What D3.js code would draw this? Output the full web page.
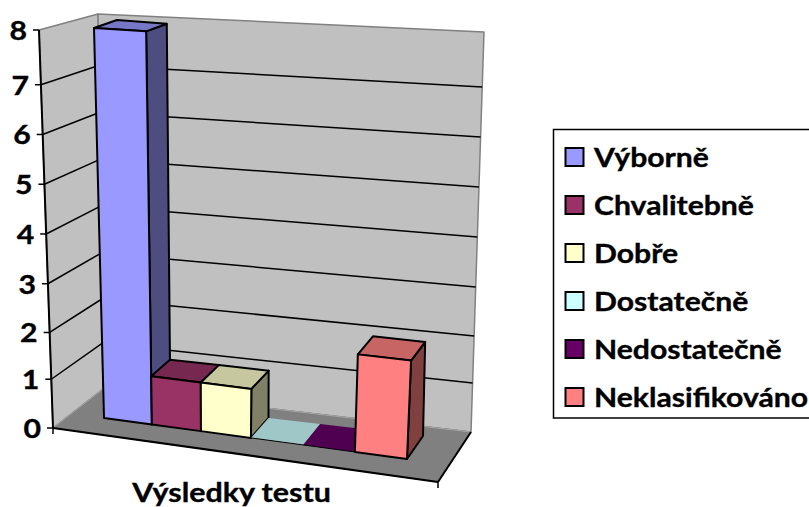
<!DOCTYPE html>
<html><head><meta charset="utf-8">
<script src="https://cdn.jsdelivr.net/npm/d3@7/dist/d3.min.js"></script>
<style>html,body{margin:0;background:#fff;overflow:hidden}text{font-family:Lato,"Open Sans",sans-serif;font-weight:700;fill:#000;stroke:#000;stroke-width:.35px}</style>
</head><body><svg id="c" width="809" height="507"></svg>
<script>
const categories=["Výborně","Chvalitebně","Dobře","Dostatečně","Nedostatečně","Neklasifikováno"];
const values=[8,1,1,0,0,2];
const colors=["#9999ff","#993366","#ffffcc","#ccffff","#660066","#ff8080"];
const yTicks=[0,1,2,3,4,5,6,7,8];
const axisTitle="Výsledky testu";

const svg=d3.select("#c");
const fy=d3.scaleLinear().domain(yTicks).range([0,.1225,.24,.3625,.4875,.6125,.7375,.8625,1]);
const fx=d3.scaleLinear().domain([0,1,2,3,4,5,6]).range([0,.158,.32,.485,.657,.828,1]);
const lerp=(a,b,t)=>[a[0]+(b[0]-a[0])*t,a[1]+(b[1]-a[1])*t];
function tri(c,u,f,z){
  const fb=lerp(c.fbl,c.fbr,u),ft=lerp(c.ftl,c.ftr,u),bb=lerp(c.bbl,c.bbr,u),bt=lerp(c.btl,c.btr,u);
  return lerp(lerp(fb,ft,f),lerp(bb,bt,f),z);
}
const room={fbl:[53,428],fbr:[438,482],ftl:[39,30],ftr:[452,66],bbl:[103,389],bbr:[471,432],btl:[98,14],btr:[484,32]};
const box={fbl:[104,418],fbr:[407,459],ftl:[94,28],ftr:[424,49],bbl:[123,401],bbr:[423,436],btl:[117,20],btr:[432,44]};
const line=d3.line();
const poly=(pts,fill,stroke,w)=>svg.append("path").attr("d",line(pts)+"Z").attr("fill",fill).attr("stroke",stroke||"none").attr("stroke-width",w||0).attr("stroke-linejoin","round");
const seg=(a,b,stroke,w)=>svg.append("path").attr("d",line([a,b])).attr("stroke",stroke).attr("stroke-width",w).attr("fill","none");
const R=(u,v,z)=>tri(room,u,fy(v),z);
const vMax=yTicks[yTicks.length-1];
const shade=(c,k)=>{const o=d3.rgb(c);return d3.rgb(o.r*k,o.g*k,o.b*k).formatHex();};
const label=(x,y,size,anchor,sx,t)=>svg.append("text").attr("transform",`translate(${x},${y}) scale(${sx},1)`).attr("text-anchor",anchor).attr("font-size",size).text(t);

// walls + floor
poly([R(0,0,0),R(0,vMax,0),R(0,vMax,1),R(0,0,1)],"#c0c0c0","#808080",1.5);
poly([R(0,0,1),R(0,vMax,1),R(1,vMax,1),R(1,0,1)],"#c0c0c0","#808080",1.5);
poly([R(0,0,0),R(0,0,1),R(1,0,1),R(1,0,0)],"#808080","#808080",1);
seg(R(0,0,0),R(0,0,1),"#a6a6a6",1);
seg(R(0,0,1),R(1,0,1),"#a6a6a6",1);
// gridlines
yTicks.filter(v=>v>0&&v<vMax).forEach(v=>{
  seg(R(0,v,0),R(0,v,1),"#000",1.5);
  seg(R(0,v,1),R(1,v,1),"#000",1.5);
});
// axes
seg(R(0,0,0),R(0,vMax,0),"#000",2);
seg(R(0,0,0),R(1,0,0),"#000",2.2);
seg(R(1,0,0),R(1,0,1),"#000",2);
yTicks.forEach(v=>{
  const p=R(0,v,0);
  seg([p[0]-6,p[1]],p,"#000",1.5);
  label(p[0]-12,p[1]+10,27,"end",1.12,v);
});
[R(0,0,0),R(1,0,0)].forEach(p=>seg(p,[p[0],p[1]+6],"#000",1.5));
// bars
const Z0=0,Z1=1;
values.forEach((v,i)=>{
  const P=(k,val,z)=>tri(box,fx(i+k),fy(val),z);
  if(v===0){
    poly([P(0,0,Z0),P(1,0,Z0),P(1,0,Z1),P(0,0,Z1)],shade(colors[i],.78));
    seg(P(0,0,Z0),P(1,0,Z0),"#000",1);
    return;
  }
  poly([P(1,0,Z0),P(1,v,Z0),P(1,v,Z1),P(1,0,Z1)],shade(colors[i],.5),"#000",2);
  poly([P(0,v,Z0),P(1,v,Z0),P(1,v,Z1),P(0,v,Z1)],shade(colors[i],.78),"#000",2);
  poly([P(0,0,Z0),P(1,0,Z0),P(1,v,Z0),P(0,v,Z0)],colors[i],"#000",2);
});
// axis title
label(231.5,501.5,26,"middle",1.17,axisTitle);
// legend
svg.append("rect").attr("x",553.5).attr("y",129.5).attr("width",300).attr("height",288.5).attr("fill","#fff").attr("stroke","#000").attr("stroke-width",1.5);
const ly=d3.scalePoint().domain(categories).range([157,397]);
categories.forEach((c,i)=>{
  const y=ly(c);
  svg.append("rect").attr("x",565.5).attr("y",y-9).attr("width",18).attr("height",18).attr("fill",colors[i]).attr("stroke","#000").attr("stroke-width",2);
  label(594,y+10,26,"start",1.16,c);
});
</script></body></html>
